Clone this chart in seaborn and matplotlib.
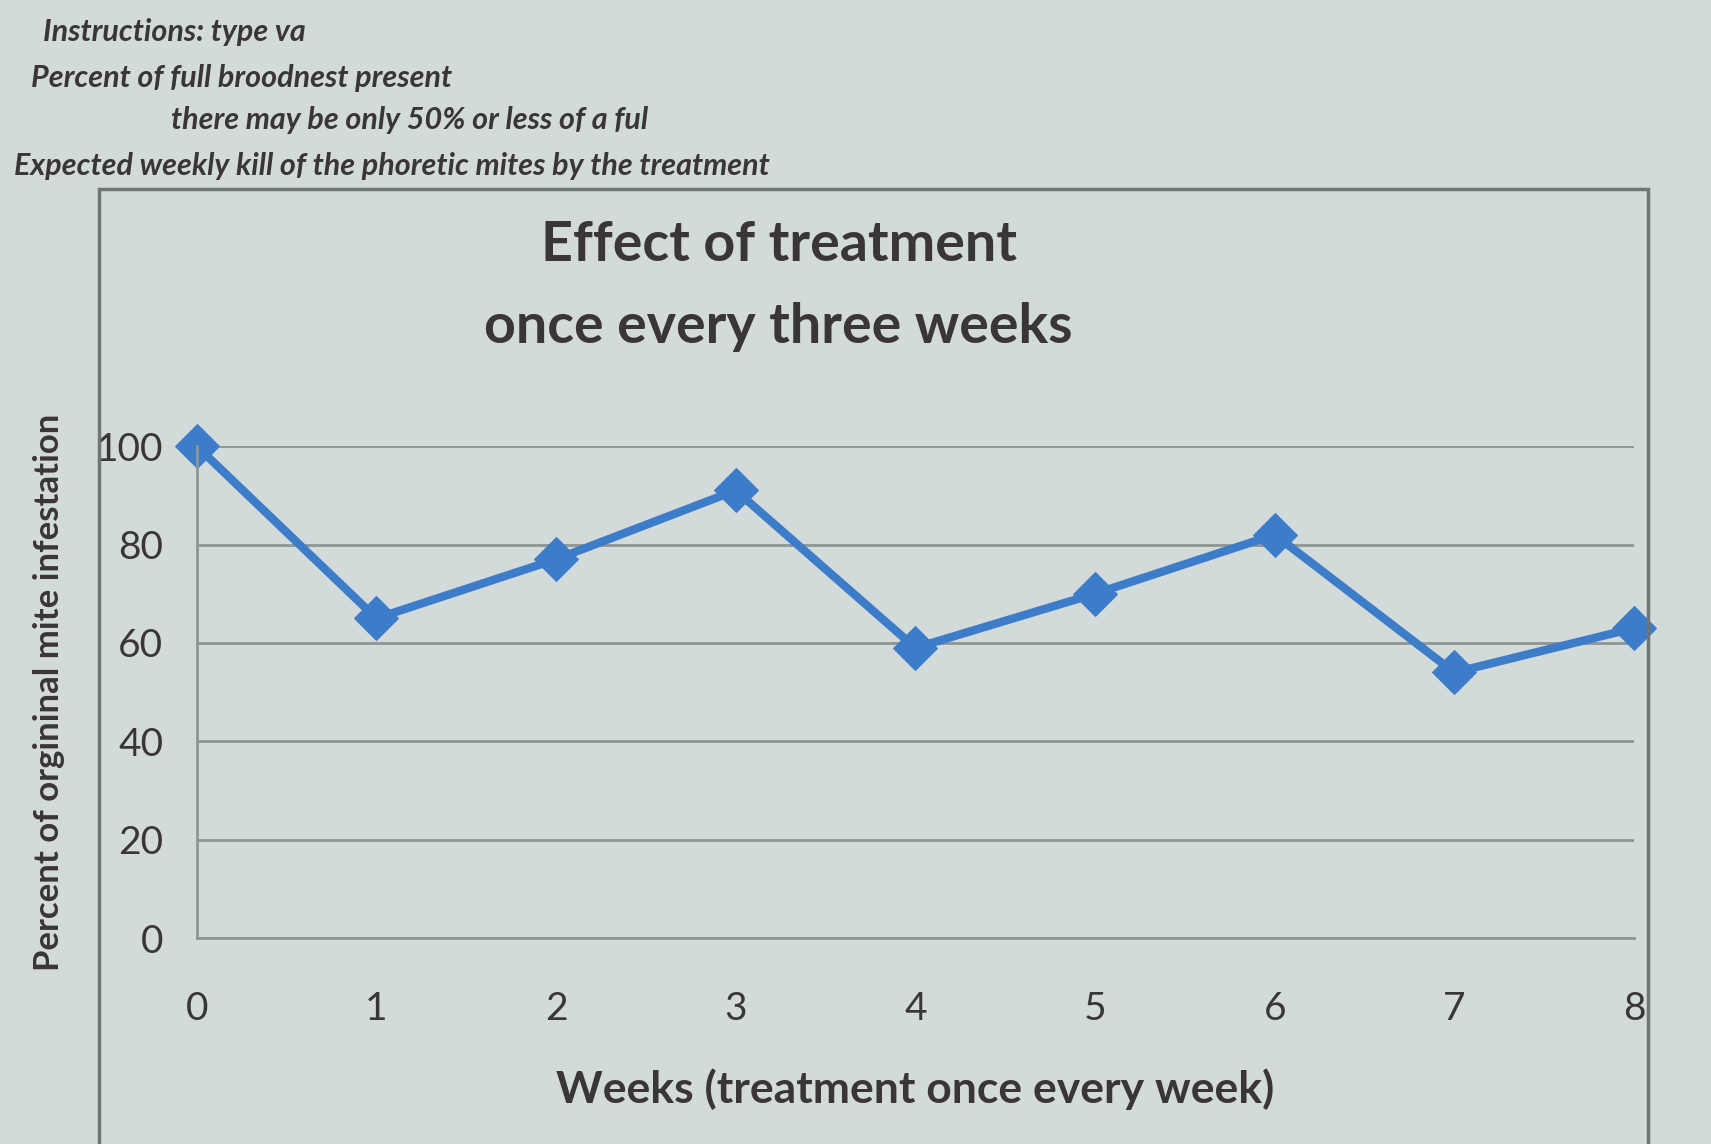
import matplotlib
matplotlib.use("Agg")
import matplotlib.pyplot as plt
import seaborn as sns
import pandas as pd
from matplotlib.patches import Rectangle

# ---- data ----
weeks = [0, 1, 2, 3, 4, 5, 6, 7, 8]
infestation = [100, 65, 77, 91, 59, 70, 82, 54, 63]
y_ticks = [0, 20, 40, 60, 80, 100]
title_lines = ["Effect of treatment", "once every three weeks"]
x_label = "Weeks (treatment once every week)"
y_label = "Percent of orgininal mite infestation"
header_lines = [
    "Instructions: type va",
    "Percent of full broodnest present",
    "there may be only 50% or less of a ful",
    "Expected weekly kill of the phoretic mites by the treatment",
]

sns.set_style("white")
plt.rcParams['font.family'] = ['Lato', 'DejaVu Sans']

bg = '#d2dbd9'
text_col = '#3a3636'
grid_col = '#8e9594'
line_col = '#3d7cc9'

fig = plt.figure(figsize=(17.11, 11.44), dpi=100, facecolor=bg)

# chart area frame
frame = Rectangle((0.058, -0.05), 0.905, 0.885, transform=fig.transFigure,
                  fill=False, edgecolor='#6f7574', linewidth=2.5)
fig.patches.append(frame)

ax = fig.add_axes([0.115, 0.18, 0.84, 0.43])
ax.set_facecolor(bg)

df = pd.DataFrame({'week': weeks, 'pct': infestation})
sns.lineplot(data=df, x='week', y='pct', ax=ax, color=line_col, linewidth=6,
             marker='D', markersize=22, markeredgecolor=line_col, clip_on=False)

ax.set_xlim(0, 8)
ax.set_ylim(0, 100)
ax.set_xticks(weeks)
ax.set_yticks(y_ticks)
ax.yaxis.grid(True, color=grid_col, linewidth=2)
ax.xaxis.grid(False)
ax.set_axisbelow(True)
for s in ['top', 'right']:
    ax.spines[s].set_visible(False)
for s in ['left', 'bottom']:
    ax.spines[s].set_color(grid_col)
    ax.spines[s].set_linewidth(2)
ax.tick_params(axis='both', direction='out', length=10, width=2, color=grid_col,
               labelsize=28, labelcolor=text_col)
ax.tick_params(axis='x', pad=28)
ax.tick_params(axis='y', pad=14)

ax.set_xlabel(x_label, fontsize=32, fontweight='bold', color=text_col, labelpad=30)
ax.set_ylabel(y_label, fontsize=25, fontweight='bold', color=text_col, labelpad=22)

fig.text(0.455, 0.786, title_lines[0], ha='center', va='center', fontsize=40,
         fontweight='bold', color=text_col)
fig.text(0.455, 0.714, title_lines[1], ha='center', va='center', fontsize=40,
         fontweight='bold', color=text_col)

hx = [0.025, 0.018, 0.10, 0.008]
hy = [0.972, 0.932, 0.895, 0.855]
for t, x, y in zip(header_lines, hx, hy):
    fig.text(x, y, t, ha='left', va='center', fontsize=22, fontweight='bold',
             fontstyle='italic', color=text_col)

fig.savefig('out.png', dpi=100, facecolor=bg)
